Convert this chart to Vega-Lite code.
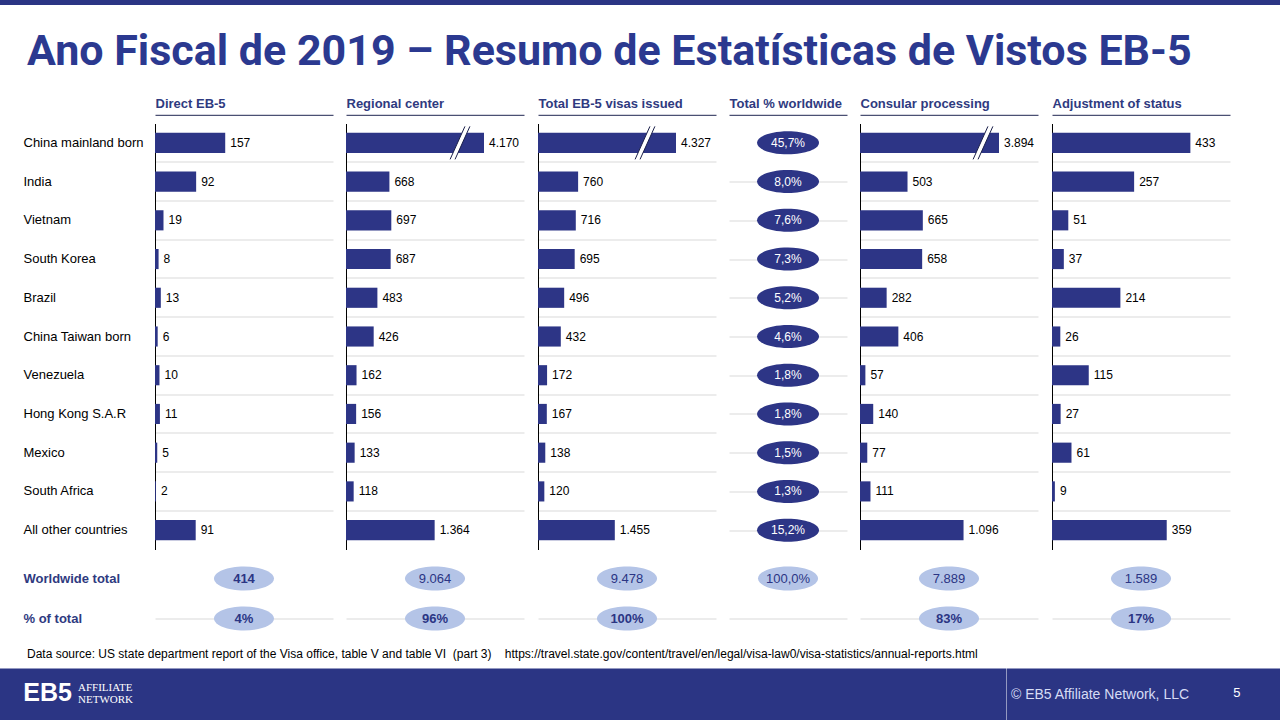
{
  "$schema": "https://vega.github.io/schema/vega-lite/v6.json",
  "padding": 0,
  "background": "#FFFFFF",
  "config": {
    "view": {"stroke": null},
    "font": "Liberation Sans",
    "locale": {"number": {"decimal": ",", "thousands": ".", "grouping": [3], "currency": ["", " €"]}}
  },
  "datasets": {
    "rows": [
      {"country": "China mainland born", "direct": 157, "regional": 4170, "total": 4327, "pct": 0.457, "consular": 3894, "adjust": 433},
      {"country": "India", "direct": 92, "regional": 668, "total": 760, "pct": 0.080, "consular": 503, "adjust": 257},
      {"country": "Vietnam", "direct": 19, "regional": 697, "total": 716, "pct": 0.076, "consular": 665, "adjust": 51},
      {"country": "South Korea", "direct": 8, "regional": 687, "total": 695, "pct": 0.073, "consular": 658, "adjust": 37},
      {"country": "Brazil", "direct": 13, "regional": 483, "total": 496, "pct": 0.052, "consular": 282, "adjust": 214},
      {"country": "China Taiwan born", "direct": 6, "regional": 426, "total": 432, "pct": 0.046, "consular": 406, "adjust": 26},
      {"country": "Venezuela", "direct": 10, "regional": 162, "total": 172, "pct": 0.018, "consular": 57, "adjust": 115},
      {"country": "Hong Kong S.A.R", "direct": 11, "regional": 156, "total": 167, "pct": 0.018, "consular": 140, "adjust": 27},
      {"country": "Mexico", "direct": 5, "regional": 133, "total": 138, "pct": 0.015, "consular": 77, "adjust": 61},
      {"country": "South Africa", "direct": 2, "regional": 118, "total": 120, "pct": 0.013, "consular": 111, "adjust": 9},
      {"country": "All other countries", "direct": 91, "regional": 1364, "total": 1455, "pct": 0.152, "consular": 1096, "adjust": 359}
    ],
    "bottom": [
      {"row": "Worldwide total", "col": "direct", "v": 414},
      {"row": "Worldwide total", "col": "regional", "v": 9064},
      {"row": "Worldwide total", "col": "total", "v": 9478},
      {"row": "Worldwide total", "col": "pct", "v": 1.0},
      {"row": "Worldwide total", "col": "consular", "v": 7889},
      {"row": "Worldwide total", "col": "adjust", "v": 1589},
      {"row": "% of total", "col": "direct", "v": 0.04},
      {"row": "% of total", "col": "regional", "v": 0.96},
      {"row": "% of total", "col": "total", "v": 1.0},
      {"row": "% of total", "col": "consular", "v": 0.83},
      {"row": "% of total", "col": "adjust", "v": 0.17}
    ]
  },
  "spacing": 23.5,
  "vconcat": [
    {
      "width": 1280, "height": 5,
      "view": {"fill": "#2B3584", "stroke": null},
      "data": {"values": []},
      "mark": "text",
      "title": {"text": "Ano Fiscal de 2019 – Resumo de Estatísticas de Vistos EB-5", "orient": "bottom", "anchor": "start", "frame": "group", "offset": 26, "dx": 27, "font": "Roboto", "fontSize": 43, "fontWeight": "bold", "color": "#2B3990", "baseline": "top"}
    },
    {
      "spacing": 9,
      "vconcat": [
        {
          "spacing": 0,
          "hconcat": [
            {"width": 23, "height": 426, "data": {"values": []}, "mark": "text"},
            {
              "width": 191, "height": 426,
              "data": {"name": "rows"},
              "encoding": {
                "y": {"field": "country", "type": "nominal", "sort": null,
                  "scale": {"domain": ["China mainland born", "India", "Vietnam", "South Korea", "Brazil", "China Taiwan born", "Venezuela", "Hong Kong S.A.R", "Mexico", "South Africa", "All other countries"], "paddingInner": 0, "paddingOuter": 0},
                  "axis": {"title": null, "domain": true, "domainColor": "#000000", "domainWidth": 1, "ticks": false, "labels": true, "labelAlign": "left", "labelBaseline": "middle", "labelPadding": 132, "labelOffset": 0, "labelFont": "Liberation Sans", "labelFontSize": 13, "labelColor": "#000000", "labelLimit": 0, "grid": true, "gridColor": "#D9D9D9", "gridOpacity": {"condition": {"test": "datum.value === 'China mainland born'", "value": 0}, "value": 1}, "bandPosition": 0}},
                "x": {"field": "direct", "type": "quantitative", "scale": {"domain": [0, 398], "range": [0, 178], "nice": false, "zero": false},
                  "axis": {"orient": "top", "title": "Direct EB-5", "titleAnchor": "start", "titleAlign": "left", "titleBaseline": "bottom", "titleFont": "Liberation Sans", "titleFontSize": 13, "titleFontWeight": "bold", "titleColor": "#2F3A80", "titlePadding": 4, "domain": true, "domainColor": "#1F2550", "domainWidth": 1, "ticks": false, "labels": false, "grid": false, "offset": 8.7}}
              },
              "layer": [
                {"mark": {"type": "bar", "color": "#2D3586", "height": {"band": 0.52}}},
                {"mark": {"type": "text", "align": "left", "baseline": "middle", "dx": 5, "font": "Liberation Sans", "fontSize": 12, "color": "#000000"},
                 "encoding": {"text": {"field": "direct", "type": "quantitative", "format": ",d"}}}
              ]
            },
            {
              "width": 192, "height": 426,
              "data": {"name": "rows"},
              "encoding": {
                "y": {"field": "country", "type": "nominal", "sort": null,
                  "scale": {"domain": ["China mainland born", "India", "Vietnam", "South Korea", "Brazil", "China Taiwan born", "Venezuela", "Hong Kong S.A.R", "Mexico", "South Africa", "All other countries"], "paddingInner": 0, "paddingOuter": 0},
                  "axis": {"title": null, "domain": true, "domainColor": "#000000", "domainWidth": 1, "ticks": false, "labels": false, "grid": true, "gridColor": "#D9D9D9", "gridOpacity": {"condition": {"test": "datum.value === 'China mainland born'", "value": 0}, "value": 1}, "bandPosition": 0}},
                "x": {"field": "regional", "type": "quantitative", "scale": {"domain": [0, 1754, 4170, 5000], "range": [0, 114, 138, 178], "nice": false, "zero": false},
                  "axis": {"orient": "top", "title": "Regional center", "titleAnchor": "start", "titleAlign": "left", "titleBaseline": "bottom", "titleFont": "Liberation Sans", "titleFontSize": 13, "titleFontWeight": "bold", "titleColor": "#2F3A80", "titlePadding": 4, "domain": true, "domainColor": "#1F2550", "domainWidth": 1, "ticks": false, "labels": false, "grid": false, "offset": 8.7}}
              },
              "layer": [
                {"mark": {"type": "bar", "color": "#2D3586", "height": {"band": 0.52}}},
                {"mark": {"type": "text", "align": "left", "baseline": "middle", "dx": 5, "font": "Liberation Sans", "fontSize": 12, "color": "#000000"},
                 "encoding": {"text": {"field": "regional", "type": "quantitative", "format": ",d"}}},
                {"transform": [{"filter": "datum.country === 'China mainland born'"}],
                 "mark": {"type": "point", "shape": "M-0.6,1L-0.3,1L0.6,-1L0.3,-1Z", "size": 1089, "filled": true, "color": "#FFFFFF", "opacity": 1, "strokeWidth": 0},
                 "encoding": {"x": {"datum": 1754, "type": "quantitative"}}},
                {"transform": [{"filter": "datum.country === 'China mainland born'"}],
                 "mark": {"type": "point", "shape": "M-0.6,1L0.3,-1M-0.3,1L0.6,-1", "size": 1089, "filled": false, "color": "#1A1F4A", "opacity": 1, "strokeWidth": 1},
                 "encoding": {"x": {"datum": 1754, "type": "quantitative"}}}
              ]
            },
            {
              "width": 191, "height": 426,
              "data": {"name": "rows"},
              "encoding": {
                "y": {"field": "country", "type": "nominal", "sort": null,
                  "scale": {"domain": ["China mainland born", "India", "Vietnam", "South Korea", "Brazil", "China Taiwan born", "Venezuela", "Hong Kong S.A.R", "Mexico", "South Africa", "All other countries"], "paddingInner": 0, "paddingOuter": 0},
                  "axis": {"title": null, "domain": true, "domainColor": "#000000", "domainWidth": 1, "ticks": false, "labels": false, "grid": true, "gridColor": "#D9D9D9", "gridOpacity": {"condition": {"test": "datum.value === 'China mainland born'", "value": 0}, "value": 1}, "bandPosition": 0}},
                "x": {"field": "total", "type": "quantitative", "scale": {"domain": [0, 2027, 4327, 5200], "range": [0, 107, 138, 178], "nice": false, "zero": false},
                  "axis": {"orient": "top", "title": "Total EB-5 visas  issued", "titleAnchor": "start", "titleAlign": "left", "titleBaseline": "bottom", "titleFont": "Liberation Sans", "titleFontSize": 13, "titleFontWeight": "bold", "titleColor": "#2F3A80", "titlePadding": 4, "domain": true, "domainColor": "#1F2550", "domainWidth": 1, "ticks": false, "labels": false, "grid": false, "offset": 8.7}}
              },
              "layer": [
                {"mark": {"type": "bar", "color": "#2D3586", "height": {"band": 0.52}}},
                {"mark": {"type": "text", "align": "left", "baseline": "middle", "dx": 5, "font": "Liberation Sans", "fontSize": 12, "color": "#000000"},
                 "encoding": {"text": {"field": "total", "type": "quantitative", "format": ",d"}}},
                {"transform": [{"filter": "datum.country === 'China mainland born'"}],
                 "mark": {"type": "point", "shape": "M-0.6,1L-0.3,1L0.6,-1L0.3,-1Z", "size": 1089, "filled": true, "color": "#FFFFFF", "opacity": 1, "strokeWidth": 0},
                 "encoding": {"x": {"datum": 2027, "type": "quantitative"}}},
                {"transform": [{"filter": "datum.country === 'China mainland born'"}],
                 "mark": {"type": "point", "shape": "M-0.6,1L0.3,-1M-0.3,1L0.6,-1", "size": 1089, "filled": false, "color": "#1A1F4A", "opacity": 1, "strokeWidth": 1},
                 "encoding": {"x": {"datum": 2027, "type": "quantitative"}}}
              ]
            },
            {
              "width": 131, "height": 426,
              "data": {"name": "rows"},
              "encoding": {
                "y": {"field": "country", "type": "nominal", "sort": null,
                  "scale": {"domain": ["China mainland born", "India", "Vietnam", "South Korea", "Brazil", "China Taiwan born", "Venezuela", "Hong Kong S.A.R", "Mexico", "South Africa", "All other countries"], "paddingInner": 0, "paddingOuter": 0},
                  "axis": {"title": null, "domain": false, "ticks": false, "labels": false, "grid": true, "gridColor": "#D9D9D9", "gridOpacity": {"condition": {"test": "datum.value === 'China mainland born'", "value": 0}, "value": 1}, "bandPosition": 0}},
                "x": {"datum": 0.5, "type": "quantitative", "scale": {"domain": [0, 1], "range": [0, 118], "nice": false, "zero": false},
                  "axis": {"orient": "top", "title": "Total % worldwide", "titleAnchor": "start", "titleAlign": "left", "titleBaseline": "bottom", "titleFont": "Liberation Sans", "titleFontSize": 13, "titleFontWeight": "bold", "titleColor": "#2F3A80", "titlePadding": 4, "domain": true, "domainColor": "#1F2550", "domainWidth": 1, "ticks": false, "labels": false, "grid": false, "offset": 8.7}}
              },
              "layer": [
                {"mark": {"type": "point", "shape": "M-1,0C-1,-0.205,-0.552,-0.371,0,-0.371C0.552,-0.371,1,-0.205,1,0C1,0.205,0.552,0.371,0,0.371C-0.552,0.371,-1,0.205,-1,0Z", "size": 3844, "filled": true, "color": "#2D3586", "opacity": 1, "strokeWidth": 0}},
                {"mark": {"type": "text", "align": "center", "baseline": "middle", "font": "Liberation Sans", "fontSize": 12, "color": "#FFFFFF"},
                 "encoding": {"text": {"field": "pct", "type": "quantitative", "format": ".1%"}}}
              ]
            },
            {
              "width": 192, "height": 426,
              "data": {"name": "rows"},
              "encoding": {
                "y": {"field": "country", "type": "nominal", "sort": null,
                  "scale": {"domain": ["China mainland born", "India", "Vietnam", "South Korea", "Brazil", "China Taiwan born", "Venezuela", "Hong Kong S.A.R", "Mexico", "South Africa", "All other countries"], "paddingInner": 0, "paddingOuter": 0},
                  "axis": {"title": null, "domain": true, "domainColor": "#000000", "domainWidth": 1, "ticks": false, "labels": false, "grid": true, "gridColor": "#D9D9D9", "gridOpacity": {"condition": {"test": "datum.value === 'China mainland born'", "value": 0}, "value": 1}, "bandPosition": 0}},
                "x": {"field": "consular", "type": "quantitative", "scale": {"domain": [0, 1302, 3894, 4500], "range": [0, 123, 139, 178], "nice": false, "zero": false},
                  "axis": {"orient": "top", "title": "Consular processing", "titleAnchor": "start", "titleAlign": "left", "titleBaseline": "bottom", "titleFont": "Liberation Sans", "titleFontSize": 13, "titleFontWeight": "bold", "titleColor": "#2F3A80", "titlePadding": 4, "domain": true, "domainColor": "#1F2550", "domainWidth": 1, "ticks": false, "labels": false, "grid": false, "offset": 8.7}}
              },
              "layer": [
                {"mark": {"type": "bar", "color": "#2D3586", "height": {"band": 0.52}}},
                {"mark": {"type": "text", "align": "left", "baseline": "middle", "dx": 5, "font": "Liberation Sans", "fontSize": 12, "color": "#000000"},
                 "encoding": {"text": {"field": "consular", "type": "quantitative", "format": ",d"}}},
                {"transform": [{"filter": "datum.country === 'China mainland born'"}],
                 "mark": {"type": "point", "shape": "M-0.6,1L-0.3,1L0.6,-1L0.3,-1Z", "size": 1089, "filled": true, "color": "#FFFFFF", "opacity": 1, "strokeWidth": 0},
                 "encoding": {"x": {"datum": 1302, "type": "quantitative"}}},
                {"transform": [{"filter": "datum.country === 'China mainland born'"}],
                 "mark": {"type": "point", "shape": "M-0.6,1L0.3,-1M-0.3,1L0.6,-1", "size": 1089, "filled": false, "color": "#1A1F4A", "opacity": 1, "strokeWidth": 1},
                 "encoding": {"x": {"datum": 1302, "type": "quantitative"}}}
              ]
            },
            {
              "width": 180, "height": 426,
              "data": {"name": "rows"},
              "encoding": {
                "y": {"field": "country", "type": "nominal", "sort": null,
                  "scale": {"domain": ["China mainland born", "India", "Vietnam", "South Korea", "Brazil", "China Taiwan born", "Venezuela", "Hong Kong S.A.R", "Mexico", "South Africa", "All other countries"], "paddingInner": 0, "paddingOuter": 0},
                  "axis": {"title": null, "domain": true, "domainColor": "#000000", "domainWidth": 1, "ticks": false, "labels": false, "grid": true, "gridColor": "#D9D9D9", "gridOpacity": {"condition": {"test": "datum.value === 'China mainland born'", "value": 0}, "value": 1}, "bandPosition": 0}},
                "x": {"field": "adjust", "type": "quantitative", "scale": {"domain": [0, 557], "range": [0, 178], "nice": false, "zero": false},
                  "axis": {"orient": "top", "title": "Adjustment of status", "titleAnchor": "start", "titleAlign": "left", "titleBaseline": "bottom", "titleFont": "Liberation Sans", "titleFontSize": 13, "titleFontWeight": "bold", "titleColor": "#2F3A80", "titlePadding": 4, "domain": true, "domainColor": "#1F2550", "domainWidth": 1, "ticks": false, "labels": false, "grid": false, "offset": 8.7}}
              },
              "layer": [
                {"mark": {"type": "bar", "color": "#2D3586", "height": {"band": 0.52}}},
                {"mark": {"type": "text", "align": "left", "baseline": "middle", "dx": 5, "font": "Liberation Sans", "fontSize": 12, "color": "#000000"},
                 "encoding": {"text": {"field": "adjust", "type": "quantitative", "format": ",d"}}}
              ]
            }
          ]
        },
        {
          "spacing": 0,
          "hconcat": [
            {"width": 23, "height": 80, "data": {"values": []}, "mark": "text"},
            {
              "width": 191, "height": 80,
              "data": {"name": "bottom"},
              "transform": [{"filter": "datum.col === 'direct'"}],
              "encoding": {
                "y": {"field": "row", "type": "nominal", "sort": null, "scale": {"domain": ["Worldwide total", "% of total"], "paddingInner": 0, "paddingOuter": 0},
                  "axis": {"title": null, "domain": false, "ticks": false, "labels": true, "labelAlign": "left", "labelBaseline": "middle", "labelPadding": 132, "labelOffset": 0, "labelFont": "Liberation Sans", "labelFontSize": 13, "labelFontWeight": "bold", "labelColor": "#2F3A80", "labelLimit": 0, "grid": true, "gridColor": "#D9D9D9", "gridOpacity": {"condition": {"test": "datum.value === 'Worldwide total'", "value": 0}, "value": 1}, "bandPosition": 0}},
                "x": {"datum": 0.5, "type": "quantitative", "scale": {"domain": [0, 1], "range": [0, 178], "nice": false, "zero": false}, "axis": null}
              },
              "layer": [
                {"mark": {"type": "point", "shape": "M-1,0C-1,-0.221,-0.552,-0.4,0,-0.4C0.552,-0.4,1,-0.221,1,0C1,0.221,0.552,0.4,0,0.4C-0.552,0.4,-1,0.221,-1,0Z", "size": 3600, "filled": true, "color": "#B4C4E7", "opacity": 1, "strokeWidth": 0}},
                {"transform": [{"filter": "datum.row === 'Worldwide total'"}],
                 "mark": {"type": "text", "align": "center", "baseline": "middle", "font": "Liberation Sans", "fontSize": 13, "fontWeight": "bold", "color": "#2B3584"},
                 "encoding": {"text": {"field": "v", "type": "quantitative", "format": ",d"}}},
                {"transform": [{"filter": "datum.row === '% of total'"}],
                 "mark": {"type": "text", "align": "center", "baseline": "middle", "font": "Liberation Sans", "fontSize": 13, "fontWeight": "bold", "color": "#2B3584"},
                 "encoding": {"text": {"field": "v", "type": "quantitative", "format": ".0%"}}}
              ]
            },
            {
              "width": 192, "height": 80,
              "data": {"name": "bottom"},
              "transform": [{"filter": "datum.col === 'regional'"}],
              "encoding": {
                "y": {"field": "row", "type": "nominal", "sort": null, "scale": {"domain": ["Worldwide total", "% of total"], "paddingInner": 0, "paddingOuter": 0},
                  "axis": {"title": null, "domain": false, "ticks": false, "labels": false, "grid": true, "gridColor": "#D9D9D9", "gridOpacity": {"condition": {"test": "datum.value === 'Worldwide total'", "value": 0}, "value": 1}, "bandPosition": 0}},
                "x": {"datum": 0.5, "type": "quantitative", "scale": {"domain": [0, 1], "range": [0, 178], "nice": false, "zero": false}, "axis": null}
              },
              "layer": [
                {"mark": {"type": "point", "shape": "M-1,0C-1,-0.221,-0.552,-0.4,0,-0.4C0.552,-0.4,1,-0.221,1,0C1,0.221,0.552,0.4,0,0.4C-0.552,0.4,-1,0.221,-1,0Z", "size": 3600, "filled": true, "color": "#B4C4E7", "opacity": 1, "strokeWidth": 0}},
                {"transform": [{"filter": "datum.row === 'Worldwide total'"}],
                 "mark": {"type": "text", "align": "center", "baseline": "middle", "font": "Liberation Sans", "fontSize": 13, "color": "#2B3584"},
                 "encoding": {"text": {"field": "v", "type": "quantitative", "format": ",d"}}},
                {"transform": [{"filter": "datum.row === '% of total'"}],
                 "mark": {"type": "text", "align": "center", "baseline": "middle", "font": "Liberation Sans", "fontSize": 13, "fontWeight": "bold", "color": "#2B3584"},
                 "encoding": {"text": {"field": "v", "type": "quantitative", "format": ".0%"}}}
              ]
            },
            {
              "width": 191, "height": 80,
              "data": {"name": "bottom"},
              "transform": [{"filter": "datum.col === 'total'"}],
              "encoding": {
                "y": {"field": "row", "type": "nominal", "sort": null, "scale": {"domain": ["Worldwide total", "% of total"], "paddingInner": 0, "paddingOuter": 0},
                  "axis": {"title": null, "domain": false, "ticks": false, "labels": false, "grid": true, "gridColor": "#D9D9D9", "gridOpacity": {"condition": {"test": "datum.value === 'Worldwide total'", "value": 0}, "value": 1}, "bandPosition": 0}},
                "x": {"datum": 0.5, "type": "quantitative", "scale": {"domain": [0, 1], "range": [0, 178], "nice": false, "zero": false}, "axis": null}
              },
              "layer": [
                {"mark": {"type": "point", "shape": "M-1,0C-1,-0.221,-0.552,-0.4,0,-0.4C0.552,-0.4,1,-0.221,1,0C1,0.221,0.552,0.4,0,0.4C-0.552,0.4,-1,0.221,-1,0Z", "size": 3600, "filled": true, "color": "#B4C4E7", "opacity": 1, "strokeWidth": 0}},
                {"transform": [{"filter": "datum.row === 'Worldwide total'"}],
                 "mark": {"type": "text", "align": "center", "baseline": "middle", "font": "Liberation Sans", "fontSize": 13, "color": "#2B3584"},
                 "encoding": {"text": {"field": "v", "type": "quantitative", "format": ",d"}}},
                {"transform": [{"filter": "datum.row === '% of total'"}],
                 "mark": {"type": "text", "align": "center", "baseline": "middle", "font": "Liberation Sans", "fontSize": 13, "fontWeight": "bold", "color": "#2B3584"},
                 "encoding": {"text": {"field": "v", "type": "quantitative", "format": ".0%"}}}
              ]
            },
            {
              "width": 131, "height": 80,
              "data": {"name": "bottom"},
              "transform": [{"filter": "datum.col === 'pct'"}],
              "encoding": {
                "y": {"field": "row", "type": "nominal", "sort": null, "scale": {"domain": ["Worldwide total", "% of total"], "paddingInner": 0, "paddingOuter": 0},
                  "axis": {"title": null, "domain": false, "ticks": false, "labels": false, "grid": true, "gridColor": "#D9D9D9", "gridOpacity": {"condition": {"test": "datum.value === 'Worldwide total'", "value": 0}, "value": 1}, "bandPosition": 0}},
                "x": {"datum": 0.5, "type": "quantitative", "scale": {"domain": [0, 1], "range": [0, 118], "nice": false, "zero": false}, "axis": null}
              },
              "layer": [
                {"mark": {"type": "point", "shape": "M-1,0C-1,-0.221,-0.552,-0.4,0,-0.4C0.552,-0.4,1,-0.221,1,0C1,0.221,0.552,0.4,0,0.4C-0.552,0.4,-1,0.221,-1,0Z", "size": 3600, "filled": true, "color": "#B4C4E7", "opacity": 1, "strokeWidth": 0}},
                {"mark": {"type": "text", "align": "center", "baseline": "middle", "font": "Liberation Sans", "fontSize": 13, "color": "#2B3584"},
                 "encoding": {"text": {"field": "v", "type": "quantitative", "format": ".1%"}}}
              ]
            },
            {
              "width": 192, "height": 80,
              "data": {"name": "bottom"},
              "transform": [{"filter": "datum.col === 'consular'"}],
              "encoding": {
                "y": {"field": "row", "type": "nominal", "sort": null, "scale": {"domain": ["Worldwide total", "% of total"], "paddingInner": 0, "paddingOuter": 0},
                  "axis": {"title": null, "domain": false, "ticks": false, "labels": false, "grid": true, "gridColor": "#D9D9D9", "gridOpacity": {"condition": {"test": "datum.value === 'Worldwide total'", "value": 0}, "value": 1}, "bandPosition": 0}},
                "x": {"datum": 0.5, "type": "quantitative", "scale": {"domain": [0, 1], "range": [0, 178], "nice": false, "zero": false}, "axis": null}
              },
              "layer": [
                {"mark": {"type": "point", "shape": "M-1,0C-1,-0.221,-0.552,-0.4,0,-0.4C0.552,-0.4,1,-0.221,1,0C1,0.221,0.552,0.4,0,0.4C-0.552,0.4,-1,0.221,-1,0Z", "size": 3600, "filled": true, "color": "#B4C4E7", "opacity": 1, "strokeWidth": 0}},
                {"transform": [{"filter": "datum.row === 'Worldwide total'"}],
                 "mark": {"type": "text", "align": "center", "baseline": "middle", "font": "Liberation Sans", "fontSize": 13, "color": "#2B3584"},
                 "encoding": {"text": {"field": "v", "type": "quantitative", "format": ",d"}}},
                {"transform": [{"filter": "datum.row === '% of total'"}],
                 "mark": {"type": "text", "align": "center", "baseline": "middle", "font": "Liberation Sans", "fontSize": 13, "fontWeight": "bold", "color": "#2B3584"},
                 "encoding": {"text": {"field": "v", "type": "quantitative", "format": ".0%"}}}
              ]
            },
            {
              "width": 180, "height": 80,
              "data": {"name": "bottom"},
              "transform": [{"filter": "datum.col === 'adjust'"}],
              "encoding": {
                "y": {"field": "row", "type": "nominal", "sort": null, "scale": {"domain": ["Worldwide total", "% of total"], "paddingInner": 0, "paddingOuter": 0},
                  "axis": {"title": null, "domain": false, "ticks": false, "labels": false, "grid": true, "gridColor": "#D9D9D9", "gridOpacity": {"condition": {"test": "datum.value === 'Worldwide total'", "value": 0}, "value": 1}, "bandPosition": 0}},
                "x": {"datum": 0.5, "type": "quantitative", "scale": {"domain": [0, 1], "range": [0, 178], "nice": false, "zero": false}, "axis": null}
              },
              "layer": [
                {"mark": {"type": "point", "shape": "M-1,0C-1,-0.221,-0.552,-0.4,0,-0.4C0.552,-0.4,1,-0.221,1,0C1,0.221,0.552,0.4,0,0.4C-0.552,0.4,-1,0.221,-1,0Z", "size": 3600, "filled": true, "color": "#B4C4E7", "opacity": 1, "strokeWidth": 0}},
                {"transform": [{"filter": "datum.row === 'Worldwide total'"}],
                 "mark": {"type": "text", "align": "center", "baseline": "middle", "font": "Liberation Sans", "fontSize": 13, "color": "#2B3584"},
                 "encoding": {"text": {"field": "v", "type": "quantitative", "format": ",d"}}},
                {"transform": [{"filter": "datum.row === '% of total'"}],
                 "mark": {"type": "text", "align": "center", "baseline": "middle", "font": "Liberation Sans", "fontSize": 13, "fontWeight": "bold", "color": "#2B3584"},
                 "encoding": {"text": {"field": "v", "type": "quantitative", "format": ".0%"}}}
              ]
            }
          ]
        },
        {
          "title": {"text": "Data source: US state department report of the Visa office, table V and table VI\u00a0 (part 3)\u00a0\u00a0\u00a0 https://travel.state.gov/content/travel/en/legal/visa-law0/visa-statistics/annual-reports.html", "orient": "top", "anchor": "start", "frame": "group", "dx": 27, "offset": 8, "font": "Liberation Sans", "fontSize": 12, "fontWeight": "normal", "color": "#000000"},
          "spacing": 0,
          "bounds": "flush",
          "hconcat": [
            {"width": 150, "height": 52, "view": {"fill": "#2B3584", "stroke": null},
             "data": {"values": [{"t": "EB5", "part": "mark"}, {"t": "AFFILIATE", "part": "line1"}, {"t": "NETWORK", "part": "line2"}]},
             "layer": [
               {"transform": [{"filter": "datum.part === 'mark'"}], "mark": {"type": "text", "font": "Liberation Sans", "fontSize": 25, "fontWeight": "bold", "color": "#FFFFFF", "align": "right", "baseline": "middle", "dx": -3, "dy": -2}, "encoding": {"text": {"field": "t"}}},
               {"transform": [{"filter": "datum.part === 'line1'"}], "mark": {"type": "text", "font": "Liberation Serif", "fontSize": 11, "color": "#FFFFFF", "align": "left", "baseline": "middle", "dx": 3, "dy": -7}, "encoding": {"text": {"field": "t"}}},
               {"transform": [{"filter": "datum.part === 'line2'"}], "mark": {"type": "text", "font": "Liberation Serif", "fontSize": 11, "color": "#FFFFFF", "align": "left", "baseline": "middle", "dx": 3, "dy": 5}, "encoding": {"text": {"field": "t"}}}
             ]},
            {"width": 856.5, "height": 52, "view": {"fill": "#2B3584", "stroke": null}, "data": {"values": []}, "mark": "text"},
            {"width": 186, "height": 52, "view": {"fill": "#2B3584", "stroke": null},
             "data": {"values": [{"t": "© EB5 Affiliate Network, LLC"}]},
             "mark": {"type": "text", "font": "Liberation Sans", "fontSize": 14, "color": "#D6DCF5", "align": "center", "baseline": "middle"},
             "encoding": {"text": {"field": "t"}}},
            {"width": 87.5, "height": 52, "view": {"fill": "#2B3584", "stroke": null},
             "data": {"values": [{"t": "5"}]},
             "mark": {"type": "text", "font": "Liberation Sans", "fontSize": 13, "color": "#FFFFFF", "align": "center", "baseline": "middle", "dy": -2},
             "encoding": {"text": {"field": "t"}}}
          ]
        }
      ]
    }
  ]
}
